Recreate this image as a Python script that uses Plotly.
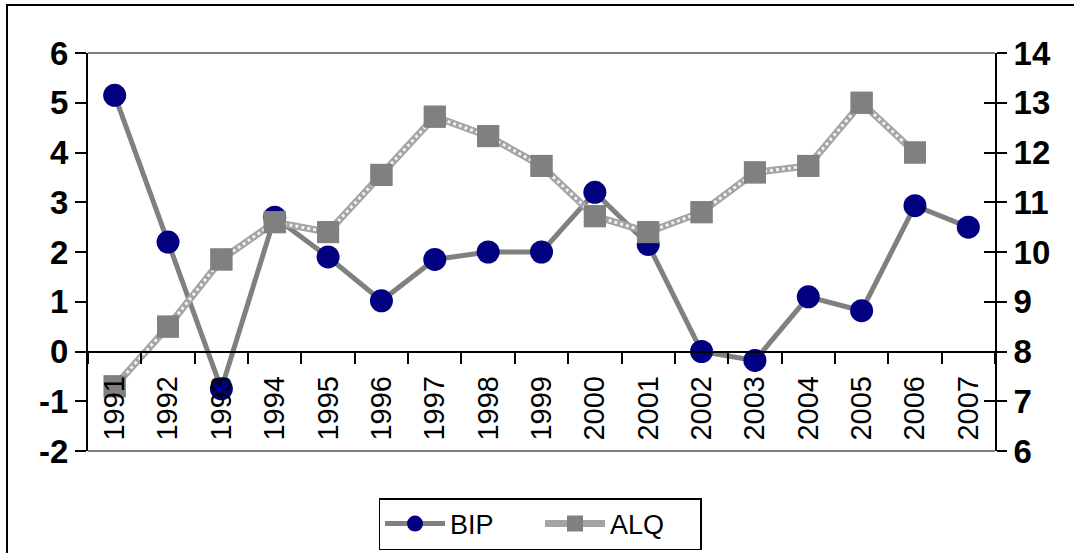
import plotly.graph_objects as go

years = [str(y) for y in range(1991, 2008)]
bip = [5.15, 2.2, -0.75, 2.7, 1.9, 1.02, 1.85, 2.0, 2.0, 3.2, 2.15, 0.0, -0.18, 1.1, 0.82, 2.93, 2.5]
alq = [7.3, 8.5, 9.85, 10.6, 10.4, 11.55, 12.72, 12.33, 11.73, 10.72, 10.4, 10.8, 11.6, 11.73, 13.0, 12.0, None]

left_ticks = list(range(-2, 7))
right_ticks = list(range(6, 15))

FONT = "Liberation Sans, Arial, sans-serif"
alq_marker = dict(color="#808080", size=22, symbol="square")

fig = go.Figure()
fig.add_trace(go.Scatter(
    x=years, y=bip, name="BIP", mode="lines+markers",
    line=dict(color="#808080", width=5),
    marker=dict(color="#000080", size=23, symbol="circle"),
    yaxis="y", cliponaxis=False,
))
fig.add_trace(go.Scatter(
    x=years, y=alq, name="ALQ", mode="lines+markers", legendgroup="alq",
    line=dict(color="#a4a4a4", width=7), marker=alq_marker,
    yaxis="y2", cliponaxis=False,
))
fig.add_trace(go.Scatter(
    x=years, y=alq, name="ALQ", mode="lines", legendgroup="alq",
    line=dict(color="#f2f2f2", width=3, dash="dot"),
    yaxis="y2", cliponaxis=False, showlegend=False, hoverinfo="skip",
))
fig.add_trace(go.Scatter(
    x=years, y=alq, name="ALQ", mode="markers", legendgroup="alq",
    marker=alq_marker, yaxis="y2", cliponaxis=False, showlegend=False,
))

L, R, T, B = 88, 79, 53, 102
W, H = 1074, 553
pw, ph = W - L - R, H - T - B

fig.update_layout(
    width=W, height=H,
    margin=dict(l=L, r=R, t=T, b=B, autoexpand=False),
    paper_bgcolor="white", plot_bgcolor="white",
    font=dict(family=FONT, color="black"),
    showlegend=True,
    legend=dict(
        orientation="h", x=(540 - L) / pw, y=(H - B - 524) / ph,
        xanchor="center", yanchor="middle",
        bordercolor="black", borderwidth=1.5, bgcolor="white",
        font=dict(family=FONT, size=27, color="black"),
        itemwidth=60, traceorder="normal", entrywidth=85,
    ),
    xaxis=dict(
        type="category", range=[-0.5, 16.5],
        anchor="free", position=0.25,
        showline=True, linecolor="black", linewidth=2,
        ticks="outside", ticklen=11, tickwidth=1.5, tickcolor="black",
        tickson="boundaries", tickangle=-90,
        ticklabelstandoff=12,
        tickfont=dict(family=FONT, size=29, color="black"),
        showgrid=False, zeroline=False, layer="above traces",
    ),
    yaxis=dict(
        range=[-2, 6], tickvals=left_ticks, ticktext=[str(v) for v in left_ticks],
        showline=True, linecolor="black", linewidth=2,
        ticks="outside", ticklen=11, tickwidth=1.5, tickcolor="black",
        tickfont=dict(family=FONT, size=33, color="black", weight="bold"),
        showgrid=False, zeroline=False, anchor="x",
    ),
    yaxis2=dict(
        range=[6, 14], tickvals=right_ticks, ticktext=[str(v) for v in right_ticks],
        overlaying="y", side="right", anchor="x",
        showline=True, linecolor="black", linewidth=2,
        ticks="outside", ticklen=10, tickwidth=1.5, tickcolor="black",
        minor=dict(ticks="inside", ticklen=11, tickwidth=1.5, tickcolor="black",
                   tickvals=right_ticks, showgrid=False),
        tickfont=dict(family=FONT, size=33, color="black", weight="bold"),
        showgrid=False, zeroline=False,
    ),
    shapes=[
        dict(type="line", xref="paper", yref="paper", x0=0, x1=1, y0=1, y1=1,
             line=dict(color="#808080", width=2)),
        dict(type="line", xref="paper", yref="paper", x0=0, x1=1, y0=0, y1=0,
             line=dict(color="#808080", width=2)),
        dict(type="rect", xref="paper", yref="paper",
             x0=(7 - L) / pw, x1=1.3, y0=-0.5, y1=1 + (T - 5) / ph,
             line=dict(color="black", width=2), layer="below"),
    ],
)

fig.write_html("out.html", config={"displayModeBar": False},
               post_script="document.body.style.margin='0px';")
